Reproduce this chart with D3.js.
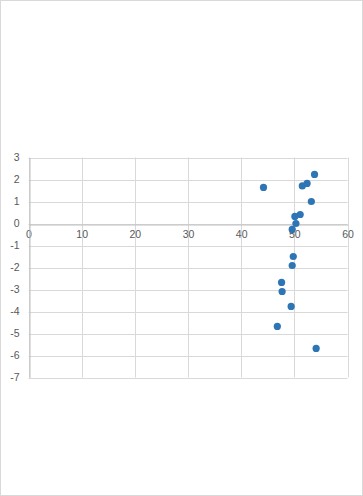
<!DOCTYPE html>
<html>
<head>
<meta charset="utf-8">
<script src="https://cdn.jsdelivr.net/npm/d3@7"></script>
<style>
  body { margin: 0; background: #fff; }
  svg { display: block; }
  .tick text { font-family: "Liberation Sans", Arial, sans-serif; font-size: 10.5px; fill: #595959; }
</style>
</head>
<body>
<div id="chart"></div>
<script>
// scatter values
const xValues = [53.8, 44.2, 51.5, 52.4, 53.2, 51.1, 50.1, 50.3, 49.6, 49.8, 49.6, 47.6, 47.7, 49.4, 46.8, 54.1];
const yValues = [2.23, 1.64, 1.71, 1.82, 1.0, 0.41, 0.32, 0.0, -0.27, -1.5, -1.91, -2.68, -3.09, -3.77, -4.68, -5.68];
const xTicks = [0, 10, 20, 30, 40, 50, 60];
const yTicks = [3, 2, 1, 0, -1, -2, -3, -4, -5, -6, -7];

const width = 363, height = 496;
const plot = { left: 28.5, right: 347.5, top: 157.5, bottom: 377.5 };

const svg = d3.select("#chart").append("svg")
  .attr("width", width)
  .attr("height", height);

// chart frame
svg.append("rect")
  .attr("x", 0.5).attr("y", 0.5)
  .attr("width", width - 1).attr("height", height - 1)
  .attr("fill", "#fff")
  .attr("stroke", "#d9d9d9");

const x = d3.scaleLinear().domain([0, 60]).range([plot.left, plot.right]);
const y = d3.scaleLinear().domain([-7, 3]).range([plot.bottom, plot.top]);

// gridlines
const grid = svg.append("g").attr("stroke", "#d9d9d9").attr("stroke-width", 1);
grid.selectAll(".gx").data(xTicks).join("line")
  .attr("x1", d => Math.round(x(d)) + 0.5).attr("x2", d => Math.round(x(d)) + 0.5)
  .attr("y1", plot.top).attr("y2", plot.bottom);
grid.selectAll(".gy").data(yTicks).join("line")
  .attr("x1", plot.left).attr("x2", plot.right)
  .attr("y1", d => Math.round(y(d)) + 0.5).attr("y2", d => Math.round(y(d)) + 0.5);

// x axis sits on y = 0
const xAxis = svg.append("g")
  .attr("transform", `translate(0,${Math.round(y(0)) + 0.5})`)
  .call(d3.axisBottom(x).tickValues(xTicks).tickFormat(d => String(d)).tickSize(0).tickPadding(6));
xAxis.select(".domain").attr("stroke", "#bfbfbf");
xAxis.selectAll(".tick text").attr("dy", "0.71em");

// y axis at x = 0, plain hyphen for negatives like the original
const yAxis = svg.append("g")
  .attr("transform", `translate(${Math.round(x(0)) + 0.5},0)`)
  .call(d3.axisLeft(y).tickValues(yTicks).tickFormat(d => String(d)).tickSize(0).tickPadding(10));
yAxis.select(".domain").attr("stroke", "#bfbfbf");

// points
svg.append("g")
  .selectAll("circle")
  .data(xValues.map((v, i) => [v, yValues[i]]))
  .join("circle")
  .attr("cx", d => x(d[0]))
  .attr("cy", d => y(d[1]))
  .attr("r", 3.6)
  .attr("fill", "#2e75b6");
</script>
</body>
</html>
